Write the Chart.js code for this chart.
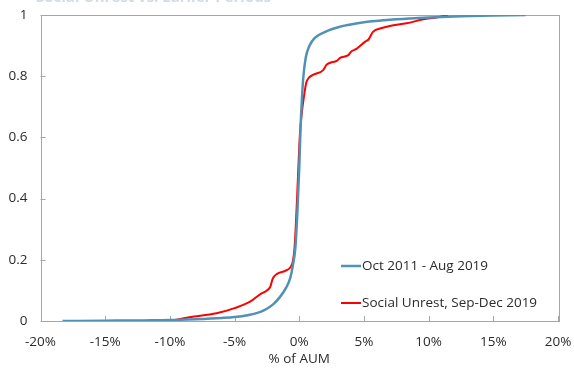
<!DOCTYPE html>
<html>
<head>
<meta charset="utf-8">
<script src="https://cdn.jsdelivr.net/npm/chart.js@4"></script>
<style>
  html, body { margin: 0; padding: 0; background: #fff; }
  #wrap { position: relative; width: 574px; height: 371px; }
</style>
</head>
<body>
<div id="wrap"><canvas id="c" width="574" height="371"></canvas></div>
<script>
// Cumulative distribution of daily flows, % of AUM
const baseLabel = 'Oct 2011 - Aug 2019';
const baseX = [-18.3, -15, -12, -10, -8, -6, -5, -4, -3, -2.5, -2, -1.5, -1.0, -0.7, -0.5, -0.3, -0.15, 0, 0.1, 0.2, 0.3, 0.5, 0.8, 1.2, 2, 3, 5, 7.5, 10, 12.5, 15, 17.5];
const baseY = [0, 0.001, 0.002, 0.003, 0.006, 0.010, 0.013, 0.019, 0.030, 0.040, 0.055, 0.078, 0.11, 0.14, 0.18, 0.24, 0.35, 0.50, 0.63, 0.72, 0.79, 0.86, 0.90, 0.925, 0.945, 0.96, 0.976, 0.986, 0.992, 0.996, 0.998, 1.0];

const unrestLabel = 'Social Unrest, Sep-Dec 2019';
const unrestX = [-10, -8.5, -6.4, -5, -3.8, -3.0, -2.5, -2.24, -2.05, -1.72, -1.08, -0.7, -0.5, -0.38, -0.28, -0.15, -0.05, 0.05, 0.2, 0.35, 0.55, 0.75, 1.1, 1.85, 2.1, 2.4, 2.9, 3.15, 3.8, 4.0, 4.45, 5.1, 5.35, 5.7, 6.25, 7.0, 8.3, 9.6, 10.6, 11.5];
const unrestY = [0, 0.012, 0.025, 0.042, 0.063, 0.088, 0.10, 0.112, 0.138, 0.154, 0.164, 0.175, 0.194, 0.232, 0.30, 0.42, 0.52, 0.61, 0.68, 0.73, 0.78, 0.795, 0.805, 0.82, 0.837, 0.844, 0.85, 0.86, 0.869, 0.88, 0.89, 0.913, 0.92, 0.945, 0.956, 0.964, 0.973, 0.986, 0.992, 1.0];

const xTicks = [-20, -15, -10, -5, 0, 5, 10, 15, 20];
const yTicks = [0, 0.2, 0.4, 0.6, 0.8, 1];
const xTitle = '% of AUM';
const chartTitle = 'Social Unrest vs. Earlier Periods';

const BLUE = '#5291b6';
const RED = '#ff0000';
const FRAME = '#a6a6a6';
const TEXT = '#2b2b2b';
const FONT = "'Open Sans', 'Noto Sans', sans-serif";

const pts = (xs, ys) => xs.map((x, i) => ({ x: x, y: ys[i] }));

// Frame, inward tick marks, in-plot legend and the clipped heading
const decor = {
  id: 'decor',
  beforeDatasetsDraw(chart) {
    const { ctx, chartArea: a, scales } = chart;
    ctx.save();
    ctx.strokeStyle = FRAME;
    ctx.lineWidth = 1;
    ctx.strokeRect(Math.round(a.left) + 0.5, Math.round(a.top) + 0.5,
                   Math.round(a.right - a.left), Math.round(a.bottom - a.top));
    ctx.beginPath();
    xTicks.forEach(v => {
      const px = Math.round(scales.x.getPixelForValue(v)) + 0.5;
      ctx.moveTo(px, a.bottom);
      ctx.lineTo(px, a.bottom - 5);
    });
    yTicks.forEach(v => {
      const py = Math.round(scales.y.getPixelForValue(v)) + 0.5;
      ctx.moveTo(a.left, py);
      ctx.lineTo(a.left + 5, py);
    });
    ctx.stroke();
    ctx.restore();
  },
  afterDraw(chart) {
    const { ctx } = chart;
    ctx.save();
    // heading, mostly above the top edge
    ctx.fillStyle = '#d3dbe4';
    ctx.font = "bold 15px " + FONT;
    ctx.textBaseline = 'alphabetic';
    ctx.textAlign = 'left';
    ctx.fillText(chartTitle, 36, 2);
    // legend
    const items = [[baseLabel, BLUE, 2.5, 266], [unrestLabel, RED, 2, 303]];
    ctx.font = "13.5px " + FONT;
    ctx.textBaseline = 'middle';
    items.forEach(([label, col, w, y]) => {
      ctx.strokeStyle = col;
      ctx.lineWidth = w;
      ctx.beginPath();
      ctx.moveTo(341, y);
      ctx.lineTo(361, y);
      ctx.stroke();
      ctx.fillStyle = TEXT;
      ctx.fillText(label, 362, y);
    });
    ctx.restore();
  }
};

new Chart(document.getElementById('c'), {
  type: 'scatter',
  data: {
    datasets: [
      { label: baseLabel, data: pts(baseX, baseY), showLine: true, borderColor: BLUE,
        borderWidth: 2.5, pointRadius: 0, cubicInterpolationMode: 'monotone' },
      { label: unrestLabel, data: pts(unrestX, unrestY), showLine: true, borderColor: RED,
        borderWidth: 2, pointRadius: 0, cubicInterpolationMode: 'monotone' }
    ]
  },
  options: {
    responsive: false,
    animation: false,
    layout: { padding: { top: 15, right: 16, left: 0, bottom: 0 } },
    plugins: { legend: { display: false }, tooltip: { enabled: false } },
    scales: {
      x: {
        type: 'linear', min: -20, max: 20,
        afterBuildTicks: s => { s.ticks = xTicks.map(v => ({ value: v })); },
        afterFit: s => { s.height = 50; s.paddingLeft = 0; s.paddingRight = 0; },
        grid: { display: false, drawTicks: false },
        border: { display: false },
        ticks: { padding: 13, color: TEXT, font: { family: FONT, size: 13.5 },
                 callback: v => v + '%' },
        title: { display: true, text: xTitle, color: TEXT, padding: { top: 5 },
                 font: { family: FONT, size: 13.5 } }
      },
      y: {
        type: 'linear', min: 0, max: 1,
        afterBuildTicks: s => { s.ticks = yTicks.map(v => ({ value: v })); },
        afterFit: s => { s.width = 40.5; s.paddingTop = 0; s.paddingBottom = 0; },
        grid: { display: false, drawTicks: false },
        border: { display: false },
        ticks: { padding: 13, color: TEXT, font: { family: FONT, size: 13.5 },
                 callback: v => String(v) }
      }
    }
  },
  plugins: [decor]
});
</script>
</body>
</html>
